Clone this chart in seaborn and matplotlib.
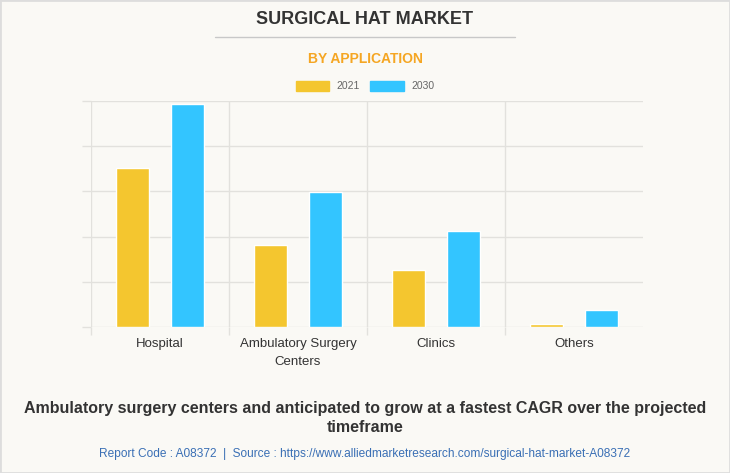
import matplotlib
matplotlib.use("Agg")
import matplotlib.pyplot as plt
import matplotlib.patches as mpatches
import pandas as pd
import seaborn as sns

categories = ["Hospital", "Ambulatory Surgery\nCenters", "Clinics", "Others"]
years = ["2021", "2030"]
values_2021 = [3.52, 1.81, 1.26, 0.07]
values_2030 = [4.93, 2.99, 2.12, 0.38]

df = pd.DataFrame({
    "Application": categories * 2,
    "Year": [years[0]] * 4 + [years[1]] * 4,
    "Value": values_2021 + values_2030,
})

sns.set_theme(style="white")
plt.rcParams["font.family"] = ["Liberation Sans", "DejaVu Sans"]

bg = "#FAF9F5"
grid_c = "#E2E1DD"
fig = plt.figure(figsize=(7.3, 4.73), dpi=100, facecolor=bg)
ax = fig.add_axes([91 / 730, 1 - 327 / 473, 552 / 730, 226 / 473])
ax.set_facecolor(bg)

sns.barplot(data=df, x="Application", y="Value", hue="Year",
            palette=["#F4C62F", "#33C5FF"], width=0.8, gap=0.4,
            saturation=1, ax=ax, legend=False)

ax.set_xlim(-0.5, 3.5)
ax.set_ylim(0, 5)
ax.set_yticks([0, 1, 2, 3, 4, 5])
ax.set_yticklabels([])
ax.set_xticks(range(4))
ax.set_xticklabels(categories, fontsize=9.5, color="#333333", linespacing=1.6)
ax.set_xticks([-0.5, 0.5, 1.5, 2.5], minor=True)
ax.tick_params(axis="x", which="major", length=0, pad=8)
ax.tick_params(axis="x", which="minor", bottom=True, length=6, color=grid_c, width=1)
ax.tick_params(axis="y", left=True, length=6.5, color=grid_c, width=1)
ax.grid(True, axis="y", color=grid_c, linewidth=1)
ax.grid(True, axis="x", which="minor", color=grid_c, linewidth=1)
ax.set_axisbelow(True)
for s in ax.spines.values():
    s.set_visible(False)
ax.set_xlabel("")
ax.set_ylabel("")

fig.text(0.5, 1 - 20 / 473, "SURGICAL HAT MARKET", ha="center", va="center",
         fontsize=13, fontweight="bold", color="#333333")
fig.add_artist(plt.Line2D([215 / 730, 515 / 730], [1 - 37 / 473] * 2,
                          color="#C8C8C8", linewidth=1))
fig.text(0.5, 1 - 59 / 473, "BY APPLICATION", ha="center", va="center",
         fontsize=10, fontweight="bold", color="#F5A623")

handles = [mpatches.Patch(color="#F4C62F", label="2021"),
           mpatches.Patch(color="#33C5FF", label="2030")]
leg = fig.legend(handles=handles, loc="center", bbox_to_anchor=(0.5, 1 - 86 / 473),
                 ncol=2, frameon=False, fontsize=7.5, handlelength=3.2,
                 handleheight=1.2, handletextpad=0.7, columnspacing=1.0)
for t in leg.get_texts():
    t.set_color("#666666")

fig.text(0.5, 1 - 408 / 473,
         "Ambulatory surgery centers and anticipated to grow at a fastest CAGR over the projected",
         ha="center", va="center", fontsize=11.5, fontweight="bold", color="#333333")
fig.text(0.5, 1 - 427 / 473, "timeframe", ha="center", va="center",
         fontsize=11.5, fontweight="bold", color="#333333")
fig.text(0.5, 1 - 454 / 473,
         "Report Code : A08372  |  Source : https://www.alliedmarketresearch.com/surgical-hat-market-A08372",
         ha="center", va="center", fontsize=8.6, color="#3A6FB5")

fig.add_artist(mpatches.Rectangle((0, 0), 1, 1, transform=fig.transFigure,
                                  fill=False, edgecolor="#DDDDDD", linewidth=2))

fig.savefig("out.png", dpi=100, facecolor=bg)
